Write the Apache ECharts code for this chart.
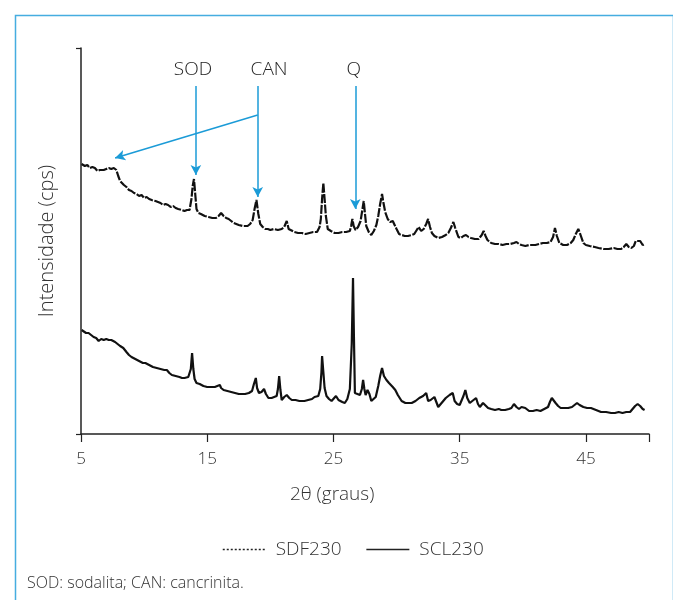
<!DOCTYPE html>
<html><head><meta charset="utf-8">
<script src="https://cdn.jsdelivr.net/npm/echarts@6/dist/echarts.min.js"></script>
<style>html,body{margin:0;padding:0;background:#fff}#c{width:673px;height:600px}</style>
</head><body><div id="c"></div>
<script>
// 2θ (graus) / relative intensity (arbitrary, offset as drawn)
const sdf230 = [
[5.05,270],[5.3,268],[5.5,269],[5.7,266],[5.9,267],[6.1,266],[6.3,263],[6.5,264],[6.6,262],[6.8,264],
[7.0,265],[7.2,266],[7.4,265],[7.6,266],[7.8,264],[7.95,258],[8.1,253],[8.2,252],[8.4,249],[8.6,247],
[8.8,244],[9.0,243],[9.2,241],[9.4,240],[9.6,238],[9.8,239],[10.0,236],[10.2,237],[10.4,235],[10.6,234],
[10.9,233],[11.1,232],[11.3,231],[11.5,229],[11.7,230],[11.9,229],[12.1,227],[12.3,228],[12.5,226],[12.7,225],
[13.0,224],[13.2,223],[13.4,224],[13.6,224],[13.75,235],[13.85,248],[13.95,255],[14.05,240],[14.15,225],[14.3,221],
[14.5,220],[14.8,218],[15.1,217],[15.4,216],[15.7,216],[15.9,218],[16.1,221],[16.3,218],[16.5,216],[16.7,215],
[16.9,213],[17.1,211],[17.3,210],[17.5,209],[17.8,208],[18.0,208],[18.2,208],[18.4,210],[18.6,214],[18.75,225],
[18.9,234],[19.05,220],[19.2,210],[19.4,207],[19.6,205],[19.8,205],[20.0,204],[20.3,205],[20.6,204],[20.9,205],
[21.1,207],[21.3,213],[21.45,205],[21.6,203],[21.9,202],[22.2,201],[22.5,201],[22.8,200],[23.1,201],[23.4,202],
[23.7,202],[23.9,207],[24.0,215],[24.1,235],[24.2,251],[24.3,235],[24.4,218],[24.55,205],[24.8,203],[25.1,201],
[25.4,201],[25.7,202],[26.0,202],[26.3,203],[26.4,208],[26.5,215],[26.6,208],[26.75,204],[26.95,207],[27.15,213],
[27.3,225],[27.4,233],[27.5,220],[27.6,208],[27.8,202],[28.0,199],[28.2,203],[28.4,209],[28.55,218],[28.7,230],
[28.85,240],[28.95,232],[29.1,222],[29.3,215],[29.5,212],[29.7,213],[29.85,212],[30.0,205],[30.2,200],[30.4,199],
[30.65,198],[30.9,198],[31.2,199],[31.4,200],[31.6,204],[31.75,207],[31.95,203],[32.15,205],[32.35,210],[32.5,215],
[32.65,207],[32.8,201],[33.0,198],[33.3,196],[33.6,197],[33.9,199],[34.1,201],[34.3,206],[34.5,212],[34.65,206],
[34.9,197],[35.1,196],[35.3,198],[35.5,199],[35.7,197],[35.9,196],[36.2,195],[36.5,195],[36.75,199],[36.9,203],
[37.05,198],[37.2,194],[37.5,191],[37.8,190],[38.1,190],[38.4,189],[38.7,190],[39.0,190],[39.3,191],[39.5,192],
[39.7,190],[39.9,189],[40.2,188],[40.5,189],[40.8,189],[41.0,189],[41.3,190],[41.6,191],[41.9,191],[42.2,192],
[42.4,197],[42.55,206],[42.7,198],[42.9,191],[43.2,189],[43.5,189],[43.8,191],[44.0,194],[44.2,200],[44.4,205],
[44.55,200],[44.8,191],[45.0,189],[45.3,188],[45.7,187],[46.0,186],[46.4,185],[46.8,185],[47.2,186],[47.5,185],
[47.8,185],[48.0,187],[48.2,190],[48.4,187],[48.6,186],[48.8,188],[48.95,193],[49.1,195],[49.3,193],[49.5,189],[49.65,190]
];
const scl230 = [
[5.05,104],[5.2,103],[5.4,101],[5.6,101],[5.8,99],[6.0,97],[6.2,96],[6.4,93],[6.6,95],[6.8,94],
[7.0,95],[7.2,94],[7.4,94],[7.7,92],[7.9,90],[8.1,88],[8.35,86],[8.6,82],[8.8,79],[9.0,77],
[9.3,75],[9.6,73],[9.9,71],[10.1,71],[10.4,69],[10.7,67],[11.0,66],[11.3,65],[11.6,64],[11.8,64],
[12.0,61],[12.2,59],[12.5,58],[12.8,57],[13.0,56],[13.2,56],[13.5,57],[13.7,65],[13.8,81],[13.9,65],
[14.0,55],[14.15,51],[14.4,50],[14.7,48],[15.0,47],[15.3,47],[15.6,47],[15.8,48],[16.0,49],[16.1,46],
[16.3,44],[16.6,43],[16.9,42],[17.2,41],[17.5,40],[17.8,40],[18.0,40],[18.3,41],[18.55,43],[18.7,50],
[18.85,56],[18.95,46],[19.1,41],[19.3,42],[19.5,45],[19.65,40],[19.85,36],[20.1,36],[20.3,37],[20.5,38],
[20.6,45],[20.7,58],[20.8,44],[20.9,34],[21.1,37],[21.3,39],[21.5,36],[21.7,34],[22.0,34],[22.3,33],
[22.7,33],[23.0,34],[23.3,35],[23.5,37],[23.8,38],[23.95,45],[24.05,62],[24.1,78],[24.2,62],[24.3,46],
[24.45,38],[24.65,35],[24.85,33],[25.0,35],[25.2,38],[25.4,34],[25.7,32],[25.9,31],[26.1,35],[26.3,45],
[26.45,90],[26.55,156],[26.62,100],[26.7,41],[26.9,40],[27.1,39],[27.25,45],[27.35,54],[27.45,45],[27.55,39],
[27.7,44],[27.85,40],[28.0,33],[28.15,31],[28.35,37],[28.55,48],[28.7,58],[28.85,66],[29.0,58],[29.2,54],
[29.4,51],[29.7,47],[29.9,44],[30.1,39],[30.4,33],[30.7,31],[31.0,31],[31.2,31],[31.5,33],[31.8,36],
[32.1,38],[32.35,41],[32.5,33],[32.7,34],[33.0,37],[33.15,32],[33.3,27],[33.5,30],[33.7,33],[33.9,36],
[34.2,39],[34.45,41],[34.6,33],[34.8,30],[35.0,29],[35.15,31],[35.3,38],[35.45,44],[35.6,36],[35.8,31],
[36.0,33],[36.3,36],[36.45,30],[36.6,27],[36.85,31],[37.0,30],[37.25,26],[37.5,25],[37.8,24],[38.1,25],
[38.3,24],[38.6,24],[38.9,25],[39.1,26],[39.3,30],[39.5,27],[39.7,25],[39.9,27],[40.05,29],[40.2,26],
[40.5,23],[40.8,23],[41.1,24],[41.4,23],[41.7,25],[42.0,27],[42.15,32],[42.3,36],[42.45,34],[42.6,31],
[42.8,28],[43.0,26],[43.3,26],[43.6,26],[43.9,27],[44.1,29],[44.3,31],[44.5,29],[44.8,27],[45.1,26],
[45.4,26],[45.8,24],[46.2,22],[46.6,22],[47.0,21],[47.3,21],[47.6,22],[47.9,21],[48.2,22],[48.5,22],
[48.7,25],[48.9,28],[49.1,30],[49.3,28],[49.5,25],[49.65,24]
];
const seriesNames = ['SDF230', 'SCL230'];
const xTicks = [5, 15, 25, 35, 45];
// phase annotations: label, label x, arrow x, arrow tip
const phaseLabels = ['SOD', 'CAN', 'Q'];
const phaseLabelX = [13.87, 19.9, 26.6];
const phaseArrowX = [14.1, 19.0, 26.73];
const phaseArrowTipY = [259, 237, 225];
const arrowTopY = 348, labelY = 364;
const canExtraArrow = [[19.0, 319], [7.7, 276]];

const FONT = '"Open Sans", Roboto, sans-serif';
const blue = '#1b9bd7';
const chart = echarts.init(document.getElementById('c'));

const markLineData = phaseArrowX.map((x, i) => [
  { coord: [x, arrowTopY] }, { coord: [x, phaseArrowTipY[i]] }
]);
markLineData.push([{ coord: canExtraArrow[0] }, { coord: canExtraArrow[1] }]);

chart.setOption({
  animation: false,
  backgroundColor: '#fff',
  grid: { left: 81, right: 24, top: 48, bottom: 166, containLabel: false },
  xAxis: {
    type: 'value', min: 5, max: 50, interval: 10,
    axisLine: { show: true, lineStyle: { color: '#222', width: 1.5 } },
    axisTick: { show: true, length: 8, lineStyle: { color: '#222', width: 1.2 } },
    axisLabel: { color: '#333', fontFamily: FONT, fontWeight: 300, fontSize: 17, margin: 17,
      formatter: v => xTicks.indexOf(v) >= 0 ? String(v) : '' },
    splitLine: { show: false }
  },
  yAxis: {
    type: 'value', min: 0, max: 386, interval: 386,
    name: 'Intensidade (cps)', nameLocation: 'middle', nameGap: 24,
    nameTextStyle: { color: '#333', fontFamily: FONT, fontWeight: 300, fontSize: 20 },
    axisLine: { show: true, lineStyle: { color: '#222', width: 1.5 } },
    axisTick: { show: true, length: 5, lineStyle: { color: '#222', width: 1.2 } },
    axisLabel: { show: false },
    splitLine: { show: false }
  },
  legend: {
    top: 535, left: 217, itemWidth: 43, itemHeight: 10, itemGap: 24,
    itemStyle: { opacity: 0 },
    textStyle: { color: '#333', fontFamily: FONT, fontWeight: 300, fontSize: 19, padding: [0, 0, 0, 5] },
    data: [
      { name: seriesNames[0], lineStyle: { type: [2, 2], width: 1.5, color: '#222' } },
      { name: seriesNames[1], lineStyle: { type: 'solid', width: 1.5, color: '#222' } }
    ]
  },
  graphic: [
    { type: 'rect', left: 13, top: 13, shape: { width: 658, height: 600 }, silent: true,
      style: { fill: 'none', stroke: '#46ade0', lineWidth: 1.5 } },
    { type: 'text', left: 290, top: 485, silent: true,
      style: { text: '2θ (graus)', fill: '#333', font: '300 19px ' + FONT } },
    { type: 'text', left: 27, top: 575, silent: true,
      style: { text: 'SOD: sodalita; CAN: cancrinita.', fill: '#333', font: '300 16px ' + FONT } }
  ],
  series: [
    { name: seriesNames[0], type: 'line', data: sdf230, symbol: 'none', z: 3,
      itemStyle: { color: '#111' },
      lineStyle: { color: '#111', width: 2.2, type: [9, 1.5] },
      markLine: { silent: true, symbol: ['none', 'arrow'], symbolSize: [8, 10],
        label: { show: false },
        lineStyle: { color: blue, width: 1.5, type: 'solid' },
        data: markLineData },
      markPoint: { silent: true, symbol: 'circle', symbolSize: 0,
        label: { show: true, position: 'inside', color: '#222', fontFamily: FONT, fontWeight: 300, fontSize: 19,
          formatter: p => p.name },
        data: phaseLabels.map((n, i) => ({ name: n, coord: [phaseLabelX[i], labelY] })) }
    },
    { name: seriesNames[1], type: 'line', data: scl230, symbol: 'none', z: 3,
      itemStyle: { color: '#111' },
      lineStyle: { color: '#111', width: 2.2, type: 'solid' } }
  ]
});
</script>
</body></html>
